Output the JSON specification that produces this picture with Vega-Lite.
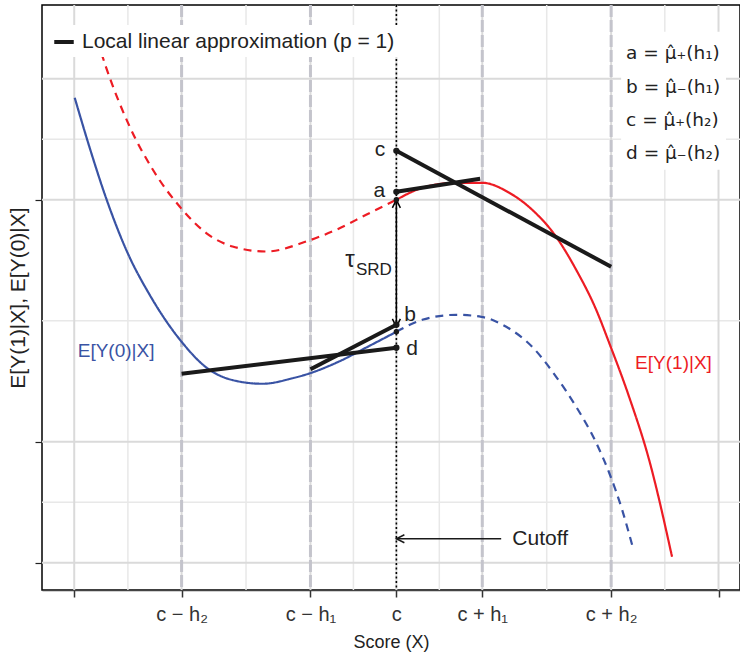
{
  "$schema": "https://vega.github.io/schema/vega-lite/v6.json",
  "width": 698,
  "height": 585,
  "autosize": {"type": "none"},
  "padding": {"left": 42, "top": 5, "right": 0, "bottom": 66},
  "background": "white",
  "config": {
    "view": {"stroke": "black", "strokeWidth": 1.5},
    "font": "Liberation Sans",
    "text": {"font": "Liberation Sans"},
    "axis": {"grid": false, "labelFont": "Liberation Sans", "titleFont": "Liberation Sans", "titleFontWeight": "normal"}
  },
  "datasets": {
    "gridMinorX": [{"x": -3.125}, {"x": -1.75}, {"x": -0.5}, {"x": 0.5}, {"x": 1.75}, {"x": 3.125}],
    "gridMajorX": [{"x": -3.75}, {"x": -2.5}, {"x": -1}, {"x": 0}, {"x": 1}, {"x": 2.5}, {"x": 3.75}],
    "gridMinorY": [{"y": 1}, {"y": 4}, {"y": 7}],
    "gridMajorY": [{"y": 0}, {"y": 2}, {"y": 6}, {"y": 8}],
    "bandwidths": [{"x": -2.5}, {"x": -1}, {"x": 1}, {"x": 2.5}],
    "cutoff": [{"x": 0}],
    "curves": [
      {"curve": "E0", "part": "observed", "x": -3.744, "y": 7.686},
      {"curve": "E0", "part": "observed", "x": -3.57, "y": 6.86},
      {"curve": "E0", "part": "observed", "x": -3.372, "y": 6.0},
      {"curve": "E0", "part": "observed", "x": -3.128, "y": 5.12},
      {"curve": "E0", "part": "observed", "x": -2.872, "y": 4.43},
      {"curve": "E0", "part": "observed", "x": -2.5, "y": 3.653},
      {"curve": "E0", "part": "observed", "x": -2.209, "y": 3.225},
      {"curve": "E0", "part": "observed", "x": -1.907, "y": 3.02},
      {"curve": "E0", "part": "observed", "x": -1.558, "y": 2.959},
      {"curve": "E0", "part": "observed", "x": -1.209, "y": 3.05},
      {"curve": "E0", "part": "observed", "x": -1.012, "y": 3.13},
      {"curve": "E0", "part": "observed", "x": -0.663, "y": 3.33},
      {"curve": "E0", "part": "observed", "x": -0.314, "y": 3.585},
      {"curve": "E0", "part": "observed", "x": 0, "y": 3.818},
      {"curve": "E0", "part": "counterfactual", "x": 0, "y": 3.818},
      {"curve": "E0", "part": "counterfactual", "x": 0.302, "y": 4.017},
      {"curve": "E0", "part": "counterfactual", "x": 0.698, "y": 4.099},
      {"curve": "E0", "part": "counterfactual", "x": 0.988, "y": 4.066},
      {"curve": "E0", "part": "counterfactual", "x": 1.279, "y": 3.901},
      {"curve": "E0", "part": "counterfactual", "x": 1.581, "y": 3.57},
      {"curve": "E0", "part": "counterfactual", "x": 1.86, "y": 3.074},
      {"curve": "E0", "part": "counterfactual", "x": 2.093, "y": 2.579},
      {"curve": "E0", "part": "counterfactual", "x": 2.326, "y": 1.983},
      {"curve": "E0", "part": "counterfactual", "x": 2.477, "y": 1.488},
      {"curve": "E0", "part": "counterfactual", "x": 2.628, "y": 0.876},
      {"curve": "E0", "part": "counterfactual", "x": 2.744, "y": 0.298},
      {"curve": "E1", "part": "counterfactual", "x": -3.434, "y": 8.425},
      {"curve": "E1", "part": "counterfactual", "x": -3.376, "y": 8.177},
      {"curve": "E1", "part": "counterfactual", "x": -3.105, "y": 7.212},
      {"curve": "E1", "part": "counterfactual", "x": -2.834, "y": 6.496},
      {"curve": "E1", "part": "counterfactual", "x": -2.523, "y": 5.889},
      {"curve": "E1", "part": "counterfactual", "x": -2.213, "y": 5.45},
      {"curve": "E1", "part": "counterfactual", "x": -1.907, "y": 5.228},
      {"curve": "E1", "part": "counterfactual", "x": -1.515, "y": 5.145},
      {"curve": "E1", "part": "counterfactual", "x": -1.05, "y": 5.311},
      {"curve": "E1", "part": "counterfactual", "x": -0.701, "y": 5.504},
      {"curve": "E1", "part": "counterfactual", "x": -0.352, "y": 5.752},
      {"curve": "E1", "part": "counterfactual", "x": 0, "y": 6.0},
      {"curve": "E1", "part": "observed", "x": 0, "y": 6.0},
      {"curve": "E1", "part": "observed", "x": 0.302, "y": 6.198},
      {"curve": "E1", "part": "observed", "x": 0.698, "y": 6.281},
      {"curve": "E1", "part": "observed", "x": 1.0, "y": 6.281},
      {"curve": "E1", "part": "observed", "x": 1.314, "y": 6.116},
      {"curve": "E1", "part": "observed", "x": 1.581, "y": 5.835},
      {"curve": "E1", "part": "observed", "x": 1.86, "y": 5.388},
      {"curve": "E1", "part": "observed", "x": 2.093, "y": 4.843},
      {"curve": "E1", "part": "observed", "x": 2.326, "y": 4.182},
      {"curve": "E1", "part": "observed", "x": 2.477, "y": 3.636},
      {"curve": "E1", "part": "observed", "x": 2.709, "y": 2.744},
      {"curve": "E1", "part": "observed", "x": 2.942, "y": 1.702},
      {"curve": "E1", "part": "observed", "x": 3.209, "y": 0.099}
    ],
    "segments": [
      {"seg": "c", "key": "Local linear approximation (p = 1)", "x": 0, "y": 6.81},
      {"seg": "c", "key": "Local linear approximation (p = 1)", "x": 2.5, "y": 4.893},
      {"seg": "a", "key": "Local linear approximation (p = 1)", "x": 0, "y": 6.132},
      {"seg": "a", "key": "Local linear approximation (p = 1)", "x": 0.975, "y": 6.347},
      {"seg": "b", "key": "Local linear approximation (p = 1)", "x": -1.0, "y": 3.2},
      {"seg": "b", "key": "Local linear approximation (p = 1)", "x": 0, "y": 3.934},
      {"seg": "d", "key": "Local linear approximation (p = 1)", "x": -2.5, "y": 3.124},
      {"seg": "d", "key": "Local linear approximation (p = 1)", "x": 0, "y": 3.554}
    ],
    "estimates": [
      {"label": "a", "x": 0, "y": 6.132},
      {"label": "b", "x": 0, "y": 3.934},
      {"label": "c", "x": 0, "y": 6.81},
      {"label": "d", "x": 0, "y": 3.554}
    ],
    "truth": [{"x": 0, "y": 6.0}, {"x": 0, "y": 3.818}],
    "effect": [{"x": 0, "y": 3.9, "y2": 6.0}],
    "cutoffArrow": [{"x": 0, "x2": 1.22, "y": 0.397}],
    "infoBox": [{"x": 2.616, "x2": 3.837, "y": 8.777, "y2": 6.496}],
    "info": [
      {"x": 2.674, "y": 8.43, "text": "a = μ̂₊(h₁)"},
      {"x": 2.674, "y": 7.87, "text": "b = μ̂₋(h₁)"},
      {"x": 2.674, "y": 7.32, "text": "c = μ̂₊(h₂)"},
      {"x": 2.674, "y": 6.77, "text": "d = μ̂₋(h₂)"}
    ]
  },
  "encoding": {
    "x": {"type": "quantitative", "scale": {"domain": [-4.125, 4.0], "nice": false, "zero": false}},
    "y": {"type": "quantitative", "scale": {"domain": [-0.45, 9.22], "nice": false, "zero": false}}
  },
  "layer": [
    {
      "data": {"name": "gridMinorX"},
      "mark": {"type": "rule", "color": "#e8e8e8", "strokeWidth": 1.5},
      "encoding": {
        "x": {"field": "x", "type": "quantitative", "axis": {"values": [-3.75, -2.5, -1, 0, 1, 2.5, 3.75], "title": "Score (X)", "titleFontSize": 18, "titleColor": "#222", "titlePadding": 9, "labelFontSize": 20, "labelColor": "#333", "labelPadding": 7, "tickSize": 7, "tickColor": "#333", "tickWidth": 1.5, "domainColor": "#444", "domainWidth": 1.5, "labelExpr": "datum.value == -2.5 ? 'c − h₂' : datum.value == -1 ? 'c − h₁' : datum.value == 0 ? 'c' : datum.value == 1 ? 'c + h₁' : datum.value == 2.5 ? 'c + h₂' : ''"}}
      }
    },
    {
      "data": {"name": "gridMinorY"},
      "mark": {"type": "rule", "color": "#e8e8e8", "strokeWidth": 1.5},
      "encoding": {
        "y": {"field": "y", "type": "quantitative", "axis": {"values": [0, 2, 6], "labels": false, "tickSize": 7, "tickColor": "#222", "tickWidth": 1.2, "domain": false, "title": "E[Y(1)|X], E[Y(0)|X]", "titleFontSize": 21, "titleColor": "#222", "titlePadding": 6}}
      }
    },
    {
      "data": {"name": "gridMajorX"},
      "mark": {"type": "rule", "color": "#dadada", "strokeWidth": 2},
      "encoding": {"x": {"field": "x", "type": "quantitative"}}
    },
    {
      "data": {"name": "gridMajorY"},
      "mark": {"type": "rule", "color": "#dadada", "strokeWidth": 2},
      "encoding": {"y": {"field": "y", "type": "quantitative"}}
    },
    {
      "data": {"name": "bandwidths"},
      "mark": {"type": "rule", "color": "#c4c4cc", "strokeWidth": 3, "strokeDash": [12, 3]},
      "encoding": {"x": {"field": "x", "type": "quantitative"}}
    },
    {
      "data": {"name": "infoBox"},
      "mark": {"type": "rect", "fill": "white"},
      "encoding": {
        "x": {"field": "x", "type": "quantitative"},
        "x2": {"field": "x2"},
        "y": {"field": "y", "type": "quantitative"},
        "y2": {"field": "y2"}
      }
    },
    {
      "data": {"name": "cutoff"},
      "mark": {"type": "rule", "color": "black", "strokeWidth": 1.6, "strokeDash": [2, 2.5]},
      "encoding": {"x": {"field": "x", "type": "quantitative"}}
    },
    {
      "data": {"name": "curves"},
      "mark": {"type": "line", "strokeWidth": 2.2, "interpolate": "monotone"},
      "encoding": {
        "x": {"field": "x", "type": "quantitative"},
        "y": {"field": "y", "type": "quantitative"},
        "color": {"field": "curve", "type": "nominal", "scale": {"domain": ["E0", "E1"], "range": ["#3953A4", "#ED1C24"]}, "legend": null},
        "strokeDash": {"field": "part", "type": "nominal", "scale": {"domain": ["observed", "counterfactual"], "range": [[1, 0], [8, 6]]}, "legend": null},
        "detail": {"field": "part"},
        "order": {"field": "x", "type": "quantitative"}
      }
    },
    {
      "data": {"name": "segments"},
      "mark": {"type": "line", "strokeWidth": 4},
      "encoding": {
        "x": {"field": "x", "type": "quantitative"},
        "y": {"field": "y", "type": "quantitative"},
        "detail": {"field": "seg"},
        "stroke": {"field": "key", "type": "nominal", "scale": {"range": ["#1a1a1a"]}, "legend": {"title": null, "orient": "none", "legendX": 5, "legendY": 20, "padding": 5, "fillColor": "white", "symbolType": "stroke", "symbolStrokeWidth": 4, "symbolSize": 380, "labelFontSize": 21, "labelColor": "#222", "labelFont": "Liberation Sans", "labelOffset": 6, "labelLimit": 400}}
      }
    },
    {
      "data": {"name": "effect"},
      "mark": {"type": "rule", "color": "black", "strokeWidth": 1.5},
      "encoding": {
        "x": {"field": "x", "type": "quantitative"},
        "y": {"field": "y", "type": "quantitative"},
        "y2": {"field": "y2"}
      }
    },
    {
      "data": {"name": "effect"},
      "mark": {"type": "point", "shape": "M-1,2L0,0L1,2", "filled": false, "color": "black", "strokeWidth": 1.5, "size": 64, "opacity": 1},
      "encoding": {
        "x": {"field": "x", "type": "quantitative"},
        "y": {"field": "y2", "type": "quantitative"}
      }
    },
    {
      "data": {"name": "effect"},
      "mark": {"type": "point", "shape": "M-1,-2L0,0L1,-2", "filled": false, "color": "black", "strokeWidth": 1.5, "size": 64, "opacity": 1},
      "encoding": {
        "x": {"field": "x", "type": "quantitative"},
        "y": {"field": "y", "type": "quantitative"}
      }
    },
    {
      "data": {"name": "cutoffArrow"},
      "mark": {"type": "rule", "color": "#1a1a1a", "strokeWidth": 1.5},
      "encoding": {
        "x": {"field": "x", "type": "quantitative"},
        "x2": {"field": "x2"},
        "y": {"field": "y", "type": "quantitative"}
      }
    },
    {
      "data": {"name": "cutoffArrow"},
      "mark": {"type": "point", "shape": "M2,-1L0,0L2,1", "filled": false, "color": "#1a1a1a", "strokeWidth": 1.5, "size": 64, "opacity": 1},
      "encoding": {
        "x": {"field": "x", "type": "quantitative"},
        "y": {"field": "y", "type": "quantitative"}
      }
    },
    {
      "data": {"name": "truth"},
      "mark": {"type": "circle", "color": "#1a1a1a", "size": 30, "opacity": 1},
      "encoding": {
        "x": {"field": "x", "type": "quantitative"},
        "y": {"field": "y", "type": "quantitative"}
      }
    },
    {
      "data": {"name": "estimates"},
      "mark": {"type": "circle", "color": "#1a1a1a", "size": 40, "opacity": 1},
      "encoding": {
        "x": {"field": "x", "type": "quantitative"},
        "y": {"field": "y", "type": "quantitative"}
      }
    },
    {
      "data": {"values": [
        {"x": -0.13, "y": 6.83, "text": "c"},
        {"x": -0.13, "y": 6.15, "text": "a"}
      ]},
      "mark": {"type": "text", "align": "right", "baseline": "middle", "fontSize": 21, "color": "#222"},
      "encoding": {
        "x": {"field": "x", "type": "quantitative"},
        "y": {"field": "y", "type": "quantitative"},
        "text": {"field": "text"}
      }
    },
    {
      "data": {"values": [
        {"x": 0.093, "y": 4.1, "text": "b"},
        {"x": 0.116, "y": 3.54, "text": "d"},
        {"x": 1.35, "y": 0.397, "text": "Cutoff"}
      ]},
      "mark": {"type": "text", "align": "left", "baseline": "middle", "fontSize": 21, "color": "#222"},
      "encoding": {
        "x": {"field": "x", "type": "quantitative"},
        "y": {"field": "y", "type": "quantitative"},
        "text": {"field": "text"}
      }
    },
    {
      "data": {"values": [{"x": -0.485, "y": 5.0, "text": "τ"}]},
      "mark": {"type": "text", "align": "right", "baseline": "middle", "fontSize": 24, "color": "#222"},
      "encoding": {
        "x": {"field": "x", "type": "quantitative"},
        "y": {"field": "y", "type": "quantitative"},
        "text": {"field": "text"}
      }
    },
    {
      "data": {"values": [{"x": -0.47, "y": 4.84, "text": "SRD"}]},
      "mark": {"type": "text", "align": "left", "baseline": "middle", "fontSize": 17, "color": "#222"},
      "encoding": {
        "x": {"field": "x", "type": "quantitative"},
        "y": {"field": "y", "type": "quantitative"},
        "text": {"field": "text"}
      }
    },
    {
      "data": {"values": [
        {"x": -3.709, "y": 3.5, "text": "E[Y(0)|X]", "curve": "E0"},
        {"x": 2.779, "y": 3.31, "text": "E[Y(1)|X]", "curve": "E1"}
      ]},
      "mark": {"type": "text", "align": "left", "baseline": "middle", "fontSize": 19},
      "encoding": {
        "x": {"field": "x", "type": "quantitative"},
        "y": {"field": "y", "type": "quantitative"},
        "text": {"field": "text"},
        "color": {"field": "curve", "type": "nominal", "legend": null}
      }
    },
    {
      "data": {"name": "info"},
      "mark": {"type": "text", "align": "left", "baseline": "middle", "fontSize": 18.5, "font": "DejaVu Sans", "color": "#222"},
      "encoding": {
        "x": {"field": "x", "type": "quantitative"},
        "y": {"field": "y", "type": "quantitative"},
        "text": {"field": "text"}
      }
    }
  ]
}
